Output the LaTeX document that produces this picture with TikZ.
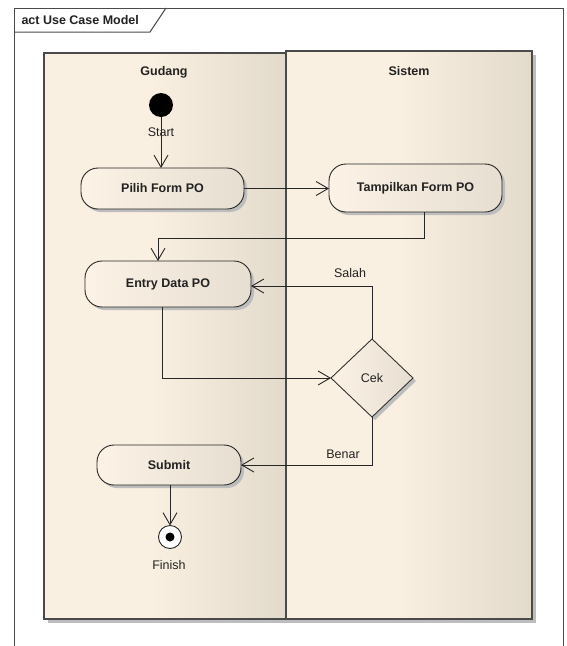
\documentclass[tikz,border=0pt]{standalone}
\usepackage{fontspec}
\setmainfont{Liberation Sans}
\usetikzlibrary{arrows.meta,shapes.geometric,shadows}

\definecolor{framegray}{HTML}{4A4A4A}
\definecolor{lanelight}{HTML}{FAF0E1}
\definecolor{lanedark}{HTML}{E2DACB}
\definecolor{nodelight}{HTML}{FCF3E6}
\definecolor{nodedark}{HTML}{E6DED0}
\definecolor{shadowgray}{HTML}{BDBDBD}
\definecolor{inkgray}{HTML}{222222}

\tikzset{
  x=1pt, y=-1pt,
  every node/.style={font=\fontsize{12.5}{14}\selectfont, text=inkgray},
  boldtext/.style={font=\bfseries\fontsize{12.5}{14}\selectfont},
  nodeshadow/.style={drop shadow={shadow xshift=3pt, shadow yshift=-3pt, fill=shadowgray, opacity=1}},
  action/.style={boldtext, draw=black!85, line width=0.9pt, rounded corners=17pt,
    left color=nodelight, right color=nodedark, inner sep=0pt, outer sep=0pt, nodeshadow},
  decision/.style={diamond, draw=black!80, line width=0.9pt, inner sep=0pt, outer sep=0pt,
    left color=nodelight, right color=nodedark, nodeshadow},
  flow/.style={draw=black!85, line width=0.9pt, -{Straight Barb[length=12pt,width=14pt]}},
  laneedge/.style={draw=framegray, line width=1.3pt},
}

\begin{document}
\begin{tikzpicture}
\useasboundingbox (0,0) rectangle (567,646);
\fill[white] (0,0) rectangle (567,646);

% diagram frame with its name tab
\draw[framegray, line width=1pt] (14,646) -- (14,8) -- (563,8) -- (563,646);
\draw[framegray, line width=1pt] (14,32) -- (150,32) -- (166,8);
\node[boldtext, anchor=west] (title) at (18,20) {act Use Case Model};

% swimlane shadows
\fill[shadowgray] (48,619) rectangle (289,623);
\fill[shadowgray] (286,55) rectangle (536,623);

% swimlane Gudang
\fill[lanelight] (44,53) rectangle (286,619);
\shade[left color=lanelight, right color=lanedark] (150,53) rectangle (286,619);
\draw[laneedge] (44,53) rectangle (286,619);

% swimlane Sistem
\fill[lanelight] (286,51) rectangle (532,619);
\shade[left color=lanelight, right color=lanedark] (395,51) rectangle (532,619);
\draw[laneedge] (286,51) rectangle (532,619);

\node[boldtext] (gudang) at (164,72) {Gudang};
\node[boldtext] (sistem) at (409,71) {Sistem};

% activity nodes
\node[circle, fill=black, minimum size=24pt, inner sep=0pt, outer sep=0pt] (start) at (161,105) {};
\node (startlbl) at (161,132) {Start};

\node[action, minimum width=163pt, minimum height=41pt] (pilih) at (162.5,188.5) {Pilih Form PO};
\node[action, minimum width=173pt, minimum height=48pt] (tampil) at (415.5,188) {Tampilkan Form PO};
\node[action, minimum width=166pt, minimum height=46pt] (entry) at (168,284) {Entry Data PO};
\node[decision, minimum width=82pt, minimum height=78pt] (cek) at (372,378) {Cek};
\node[action, minimum width=144pt, minimum height=40pt] (submit) at (169,465) {Submit};

\node[circle, draw=black!85, line width=0.9pt, fill=white, minimum size=23pt, inner sep=0pt, outer sep=0pt] (finish) at (170,537) {};
\node[circle, fill=black, minimum size=9pt, inner sep=0pt] (finishdot) at (finish.center) {};
\node (finishlbl) at (169,565) {Finish};

% control flows
\coordinate (turnA) at (424,238);
\draw[flow] (start.south) -- (start.south |- pilih.north);
\draw[flow] (pilih.east) -- (pilih.east -| tampil.west);
\draw[flow] (tampil.south -| turnA) -- (turnA) -| ([xshift=-10pt]entry.north);
\draw[flow] ([xshift=-6pt]entry.south) |- (cek.west);
\draw[flow] (cek.north) |- ([yshift=-2pt]entry.east);
\draw[flow] (cek.south) |- (submit.east);
\draw[flow] (submit.south -| finish.north) -- (finish.north);

\node (salah) at (350,273) {Salah};
\node (benar) at (343,454) {Benar};
\end{tikzpicture}
\end{document}
